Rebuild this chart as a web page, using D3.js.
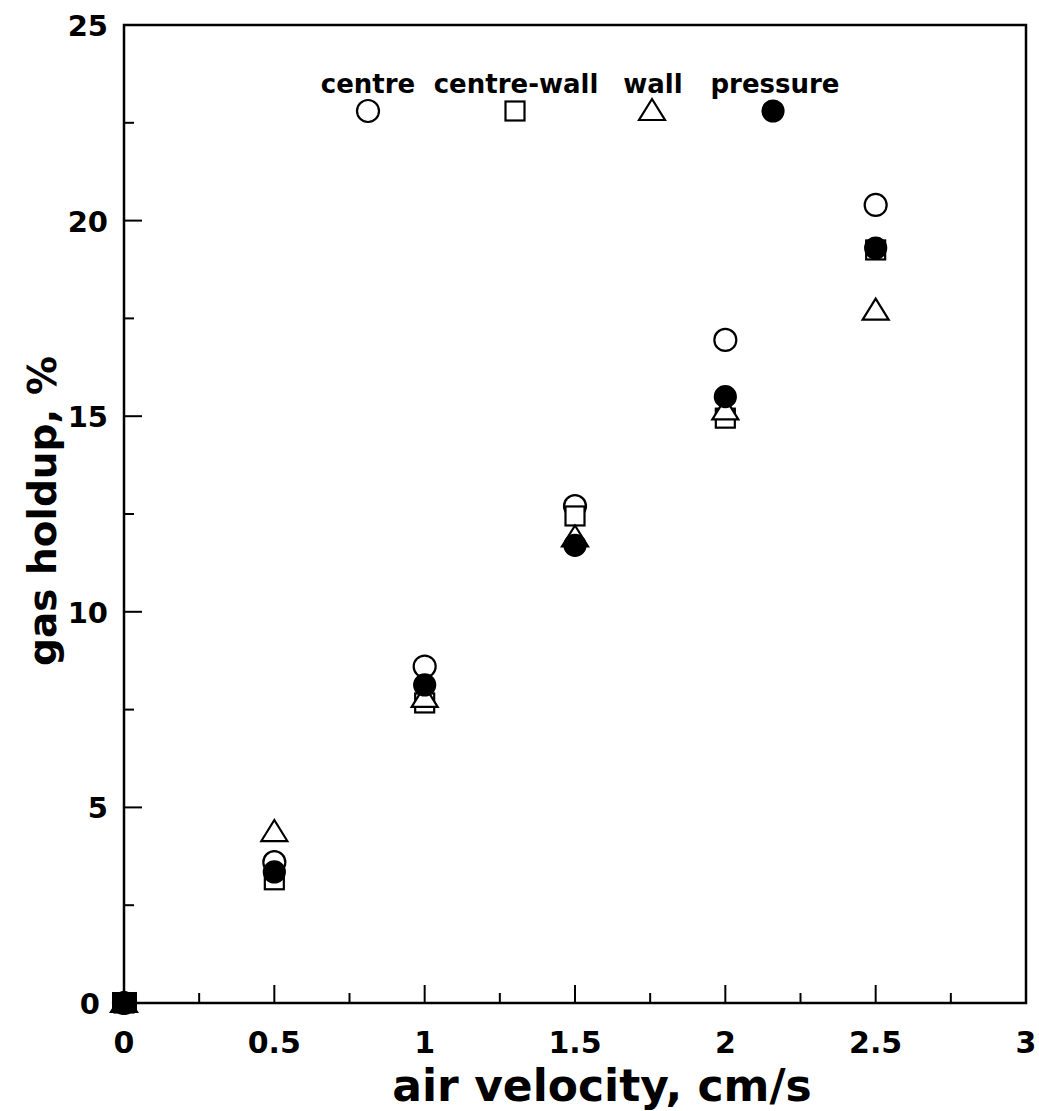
<!DOCTYPE html>
<html>
<head>
<meta charset="utf-8">
<script src="https://cdn.jsdelivr.net/npm/d3@7"></script>
<style>
  html, body { margin: 0; padding: 0; background: #fff; }
  svg text { font-family: "DejaVu Sans", "Liberation Sans", Arial, sans-serif; font-weight: bold; fill: #000; }
</style>
</head>
<body>
<svg id="chart" width="1039" height="1111"></svg>
<script>
// Air velocity (cm/s) at which gas holdup was measured
const velocity = [0, 0.5, 1, 1.5, 2, 2.5];

// Gas holdup (%) by measurement location / method
const centre      = [0, 3.6, 8.6, 12.7, 16.95, 20.4];
const centreWall  = [0, 3.15, 7.67, 12.45, 14.95, 19.25];
const wall        = [0, 4.37, 7.8, 11.9, 15.15, 17.7];
const pressure    = [0, 3.35, 8.13, 11.7, 15.5, 19.3];

const xTicks = [0, 0.5, 1, 1.5, 2, 2.5, 3];
const xTickLabels = ["0", "0.5", "1", "1.5", "2", "2.5", "3"];
const yTicks = [0, 5, 10, 15, 20, 25];
const yTickLabels = ["0", "5", "10", "15", "20", "25"];

const series = [
  { name: "centre",      values: centre,     shape: "circle",   filled: false },
  { name: "centre-wall", values: centreWall, shape: "square",   filled: false },
  { name: "wall",        values: wall,       shape: "triangle", filled: false },
  { name: "pressure",    values: pressure,   shape: "circle",   filled: true }
];

const svg = d3.select("#chart");
const plotLeft = 124, plotRight = 1026, plotTop = 25, plotBottom = 1003;

const x = d3.scaleLinear().domain([0, 3]).range([plotLeft, plotRight]);
const y = d3.scaleLinear().domain([0, 25]).range([plotBottom, plotTop]);

// Frame
svg.append("rect")
  .attr("x", plotLeft).attr("y", plotTop)
  .attr("width", plotRight - plotLeft).attr("height", plotBottom - plotTop)
  .attr("fill", "none").attr("stroke", "#000").attr("stroke-width", 2.5);

// Inward ticks: every 0.25 on x (longer at 0.5), every 2.5 on y (longer at 5)
const xMinor = d3.range(0.25, 3, 0.25);
svg.append("g").selectAll("line").data(xMinor).join("line")
  .attr("x1", d => x(d)).attr("x2", d => x(d))
  .attr("y1", plotBottom).attr("y2", d => plotBottom - (Math.abs(d * 2 - Math.round(d * 2)) < 1e-9 ? 18 : 10))
  .attr("stroke", "#000").attr("stroke-width", 2);

const yMinor = d3.range(2.5, 25, 2.5);
svg.append("g").selectAll("line").data(yMinor).join("line")
  .attr("y1", d => y(d)).attr("y2", d => y(d))
  .attr("x1", plotLeft).attr("x2", d => plotLeft + (d % 5 === 0 ? 18 : 10))
  .attr("stroke", "#000").attr("stroke-width", 2);

// Tick labels
svg.append("g").selectAll("text").data(xTicks).join("text")
  .attr("x", d => x(d)).attr("y", plotBottom + 50)
  .attr("text-anchor", "middle").attr("font-size", 30)
  .text((d, i) => xTickLabels[i]);

// y labels; the zero label sits a little further out to clear the origin marker
svg.append("g").selectAll("text").data(yTicks).join("text")
  .attr("x", d => d === 0 ? plotLeft - 24 : plotLeft - 16)
  .attr("y", d => y(d) + 11)
  .attr("text-anchor", "end").attr("font-size", 29)
  .text((d, i) => yTickLabels[i]);

// Axis titles
svg.append("text")
  .attr("x", 602).attr("y", 1101)
  .attr("text-anchor", "middle").attr("font-size", 44)
  .text("air velocity, cm/s");

svg.append("text")
  .attr("transform", `translate(56, 511) rotate(-90)`)
  .attr("text-anchor", "middle").attr("font-size", 39)
  .text("gas holdup, %");

// Marker drawing
function drawMarker(g, shape, filled) {
  const fill = filled ? "#000" : "#fff";
  if (shape === "circle") {
    g.append("circle").attr("r", filled ? 10.5 : 11)
      .attr("fill", fill).attr("stroke", "#000").attr("stroke-width", 2.2);
  } else if (shape === "square") {
    g.append("rect").attr("x", -9.5).attr("y", -9.5).attr("width", 19).attr("height", 19)
      .attr("fill", fill).attr("stroke", "#000").attr("stroke-width", 2.2);
  } else {
    g.append("path").attr("d", "M0,-12 L13,9 L-13,9 Z")
      .attr("fill", fill).attr("stroke", "#000").attr("stroke-width", 2.2)
      .attr("stroke-linejoin", "miter");
  }
}

// Points (open markers first, filled circles on top)
series.forEach(s => {
  const g = svg.append("g").attr("class", "series");
  s.values.forEach((v, i) => {
    const m = g.append("g").attr("transform", `translate(${x(velocity[i])},${y(v)})`);
    drawMarker(m, s.shape, s.filled);
  });
});

// The origin point: all series coincide at zero
svg.append("rect")
  .attr("x", x(0) - 12).attr("y", y(0) - 11).attr("width", 25).attr("height", 21)
  .attr("fill", "#000");

// Legend: label above each symbol
const legendX = [368, 515, 652, 773];
const legendTextX = [368, 516, 653, 775];
series.forEach((s, i) => {
  svg.append("text")
    .attr("x", legendTextX[i]).attr("y", 93)
    .attr("text-anchor", "middle").attr("font-size", 26)
    .text(s.name);
  const m = svg.append("g").attr("transform", `translate(${legendX[i]},111)`);
  drawMarker(m, s.shape, s.filled);
});
</script>
</body>
</html>
